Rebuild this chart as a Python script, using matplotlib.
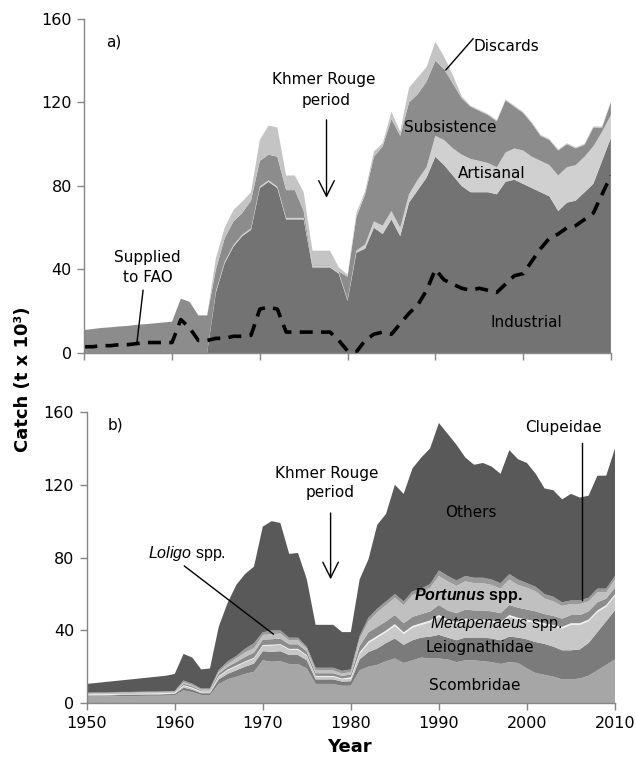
import matplotlib
matplotlib.use("Agg")
import matplotlib.pyplot as plt
import numpy as np

plt.rcParams['font.family'] = ['DejaVu Sans']
plt.rcParams['mathtext.fontset'] = 'custom'
plt.rcParams['mathtext.rm'] = 'Liberation Sans'
plt.rcParams['mathtext.it'] = 'Liberation Sans:italic'
plt.rcParams['mathtext.bf'] = 'Liberation Sans:bold'
plt.rcParams['mathtext.bfit'] = 'Liberation Sans:italic:bold'

years = list(range(1950, 2011))

# a) captura por sector (t x 10^3)
industrial = [0] * 15 + [29, 43, 51, 56, 59, 79, 82, 79, 64, 64,
                         64, 41, 41, 41, 38, 25, 48, 50, 60, 57,
                         64, 56, 72, 78, 84, 94, 90, 85, 80, 77,
                         77, 77, 76, 82, 83, 81, 79, 77, 75, 68,
                         72, 73, 77, 81, 92, 103]
artisanal = [0] * 15 + [0.7] * 15 + [0.5, 1, 2, 3, 4, 4, 4, 4, 5, 5,
                                     10, 12, 13, 15, 16, 15, 14, 13, 14, 15,
                                     16, 15, 15, 15, 17, 17, 17, 17, 18, 14, 11]
subsistence = [11, 11.5, 12, 12.3, 12.7, 13, 13.5, 13.8, 14.2, 14.6, 15, 26, 24.5, 18, 18,
               10.3, 11.3, 11.3, 10.3, 13.3, 12.3, 12.3, 14.3, 13.3, 13.3, 3.3, 0.3, 0.3, 0.3, 0.3,
               11, 16, 24, 31, 38, 44, 44, 44, 41, 41,
               36, 34, 31, 27, 25, 24, 23, 22, 25, 20,
               18, 16, 12, 12, 12, 11, 8, 5.7, 9, 2, 6]
discards = [0] * 15 + [5.5, 5, 5.5, 5.5, 4, 10, 14, 14, 7, 7, 9, 7, 7, 7, 2,
                       1, 2, 1.5, 2.5, 1.5, 3.5, 2, 7, 8, 7,
                       9, 6, 4, 1] + [0.5] * 17
fao = [3, 3, 3.5, 3.5, 4, 4, 4.5, 5, 5, 5, 5, 16, 12, 6, 6,
       7, 7, 8, 8, 8.5, 21, 22, 21, 10, 10, 10, 10, 10, 10, 6,
       1, 0.5, 6, 9, 10, 9, 14, 19, 23, 30,
       40, 35, 33, 31, 30, 31, 30, 29, 33, 37,
       38, 44, 50, 55, 57, 60, 61, 64, 67, 76, 85]

# b) captura por taxón (t x 10^3)
scombridae = [3.5, 3.6, 3.6, 3.7, 3.8, 3.8, 3.9, 4.0, 4.0, 4.1, 4.2, 7.0, 6.0, 4.4, 4.4,
              10.5, 13.0, 14.5, 16.0, 17.2, 23.5, 22.7, 23.0, 21.4, 21.4, 19.0, 10.5, 10.5, 10.5, 9.5,
              9.5, 18, 20, 21, 23, 24.5, 22, 23.5, 25, 24.5,
              24.5, 24, 22.5, 23.5, 23.5, 23, 22.5, 21.5, 22.5, 22,
              19, 16.5, 15.5, 14.5, 13, 13, 13.5, 15, 18, 21, 24]
leiognathidae = [0.6, 0.6, 0.6, 0.6, 0.7, 0.7, 0.7, 0.7, 0.7, 0.8, 0.8, 1.5, 1.3, 1.0, 1.0,
                 2.5, 3.0, 3.5, 4.0, 4.5, 5.0, 5.5, 5.5, 5.0, 5.0, 4.5, 2.5, 2.5, 2.5, 2.3,
                 2.5, 6, 8, 9, 10, 11, 10, 11, 11, 12,
                 13, 12, 12, 12.5, 12.5, 13, 13, 13, 14, 14,
                 16, 17, 17, 16.5, 16, 16, 16, 18, 21, 24, 27]
metapenaeus = [0.3] * 11 + [1.0, 0.8, 0.6, 0.6,
                            1.5, 2.0, 2.2, 2.5, 2.8, 3.0, 3.5, 3.5, 3.0, 3.0, 2.5, 1.5, 1.5, 1.5, 1.3,
                            1.3, 3, 5, 6, 6, 7, 6, 7, 7, 8,
                            10, 9, 9, 9.5, 9, 9, 9, 9, 11, 10,
                            10, 10.5, 10.5, 11, 12, 14, 13.5, 12, 11, 8, 8]
thin_light = [0.4] * 30 + [0.9] * 31
mid_band = [0.3] * 11 + [0.8, 0.7, 0.5, 0.5,
                         1.3, 1.5, 2.0, 2.5, 2.8, 3.0, 3.0, 3.0, 2.5, 2.5, 2.0, 1.5, 1.5, 1.5, 1.4,
                         1.5, 3.5, 5, 5, 5, 5, 5, 5, 5, 5,
                         5.5, 5, 5, 5, 5, 5, 5, 5, 5.5, 5.5,
                         5.5, 5.5, 5, 5, 4.5, 4.5, 4.5, 4.5, 4.5, 3.5, 3.5]
portunus = [0.3] * 11 + [0.7, 0.6, 0.5, 0.5,
                         1.0, 1.5, 2.0, 2.5, 2.5, 2.5, 2.8, 2.8, 2.2, 2.2, 1.5, 1.5, 1.5, 1.5, 1.3,
                         1.3, 4, 6, 8, 9, 9.5, 10, 12, 12, 13,
                         16, 16, 15, 15.5, 15, 15, 14.5, 13.5, 14, 12.5,
                         12, 11, 8.5, 8, 7, 6, 6, 5.5, 5.5, 3.5, 4.5]
clupeidae = [0.3] * 11 + [1.0, 0.8, 0.6, 0.6,
                          1.0, 1.5, 1.3, 2.0, 2.7, 1.5, 2.0, 1.7, 1.4, 1.4, 1.0, 1.5, 1.5, 1.5, 1.5,
                          1.5, 1.5, 2, 2, 2, 2, 2, 2, 2, 2,
                          3, 3, 3, 3, 3, 3, 3, 3, 3, 3,
                          2.5, 2.5, 2.5, 2.5, 2, 2, 2, 2, 2, 2, 2]
# envolvente total leída del gráfico b)
total_b = [10.5, 11, 11.5, 12, 12.5, 13, 13.5, 14, 14.5, 15, 16, 27, 25, 18.5, 19,
           42, 55, 65, 71, 75, 97, 100, 99, 82, 82.5, 68, 43, 43, 43, 39,
           39, 68, 79, 98, 104, 120, 115, 129, 135, 140,
           154, 148, 142, 135, 131, 132, 130, 126, 139, 134,
           132, 126, 118, 117, 112, 115, 113, 114, 125, 125, 140]

lower_b = [scombridae, leiognathidae, metapenaeus, thin_light, mid_band, portunus, clupeidae]
others = np.array(total_b) - np.sum(np.array(lower_b), axis=0)

fig = plt.figure(figsize=(6.36, 7.67), dpi=100)
ax1 = fig.add_axes([0.1325, 0.5398, 0.828, 0.4355])
ax2 = fig.add_axes([0.1363, 0.0834, 0.8307, 0.3794])

axis_grey = "#868686"


def estilo(ax, labels_x):
    ax.set_xlim(1950, 2010)
    ax.set_ylim(0, 160)
    ax.set_yticks([0, 40, 80, 120, 160])
    ax.set_xticks(range(1950, 2011, 10))
    for s in ["top", "right"]:
        ax.spines[s].set_visible(False)
    for s in ["left", "bottom"]:
        ax.spines[s].set_color(axis_grey)
        ax.spines[s].set_linewidth(1)
    ax.tick_params(axis="both", direction="out", length=5, width=1, color=axis_grey,
                   labelsize=11.5, pad=4)
    if not labels_x:
        ax.tick_params(axis="x", labelbottom=False)


# Gráfico a)
ax1.stackplot(years, industrial, artisanal, subsistence, discards,
              colors=["#737373", "#d0d0d0", "#8c8c8c", "#c4c4c4"], linewidth=0)
ax1.plot(years, fao, color="black", lw=2.6, linestyle=(0, (3.6, 2.3)))
estilo(ax1, False)

ax1.text(1952.5, 149, "a)", fontsize=11, ha="left", va="center")
ax1.text(1977.3, 131, "Khmer Rouge", fontsize=11, ha="center", va="center")
ax1.text(1977.6, 121, "period", fontsize=11, ha="center", va="center")
ax1.annotate("", xy=(1977.6, 73), xytext=(1977.6, 113),
             arrowprops=dict(arrowstyle="->,head_length=0.7,head_width=0.35", lw=1,
                             color="black", mutation_scale=16))
ax1.text(1957.2, 45.5, "Supplied", fontsize=11, ha="center", va="center")
ax1.text(1957.2, 36, "to FAO", fontsize=11, ha="center", va="center")
ax1.plot([1956.7, 1956.0], [30, 5], color="black", lw=1)
ax1.text(1994.4, 147, "Discards", fontsize=11, ha="left", va="center")
ax1.plot([1994.3, 1991.2], [150.5, 135.6], color="black", lw=1)
ax1.text(1991.7, 107.8, "Subsistence", fontsize=11, ha="center", va="center")
ax1.text(1996.4, 86.2, "Artisanal", fontsize=11, ha="center", va="center")
ax1.text(2000.4, 14.4, "Industrial", fontsize=11, ha="center", va="center")

# Gráfico b)
ax2.stackplot(years, scombridae, leiognathidae, metapenaeus, thin_light, mid_band,
              portunus, clupeidae, others,
              colors=["#a6a6a6", "#7b7b7b", "#c8c8c8", "#f2f2f2", "#8c8c8c",
                      "#c0c0c0", "#9a9a9a", "#595959"], linewidth=0)
estilo(ax2, True)

ax2.text(1952.4, 152.7, "b)", fontsize=11, ha="left", va="center")
ax2.text(1977.3, 126.4, "Khmer Rouge", fontsize=11, ha="center", va="center")
ax2.text(1977.6, 116, "period", fontsize=11, ha="center", va="center")
ax2.annotate("", xy=(1977.7, 66.5), xytext=(1977.7, 106),
             arrowprops=dict(arrowstyle="->,head_length=0.7,head_width=0.35", lw=1,
                             color="black", mutation_scale=16))
ax2.text(1961.4, 82.4, r"$\mathit{Loligo}$ spp.", fontsize=11.5, family="Liberation Sans",
         ha="center", va="center")
ax2.plot([1961.1, 1971.2], [75.3, 37.9], color="black", lw=1)
ax2.text(2004.1, 151.6, "Clupeidae", fontsize=11, ha="center", va="center")
ax2.plot([2006.25, 2006.25], [143, 56.6], color="black", lw=1)
ax2.text(1993.6, 105, "Others", fontsize=11, ha="center", va="center")
ax2.text(1993.3, 59.3, r"$\mathbfit{Portunus}$ spp.", fontsize=11.5, family="Liberation Sans",
         fontweight="bold", ha="center", va="center")
ax2.text(1996.5, 44, r"$\mathit{Metapenaeus}$ spp.", fontsize=11.5, family="Liberation Sans",
         ha="center", va="center")
ax2.text(1994.7, 30.8, "Leiognathidae", fontsize=11, ha="center", va="center")
ax2.text(1994.1, 9.9, "Scombridae", fontsize=11, ha="center", va="center")

fig.text(0.036, 0.505, "Catch (t x 10³)", rotation=90, fontsize=13, fontweight="bold",
         ha="center", va="center")
fig.text(0.55, 0.026, "Year", fontsize=13, fontweight="bold", ha="center", va="center")

fig.savefig("out.png", dpi=100)
